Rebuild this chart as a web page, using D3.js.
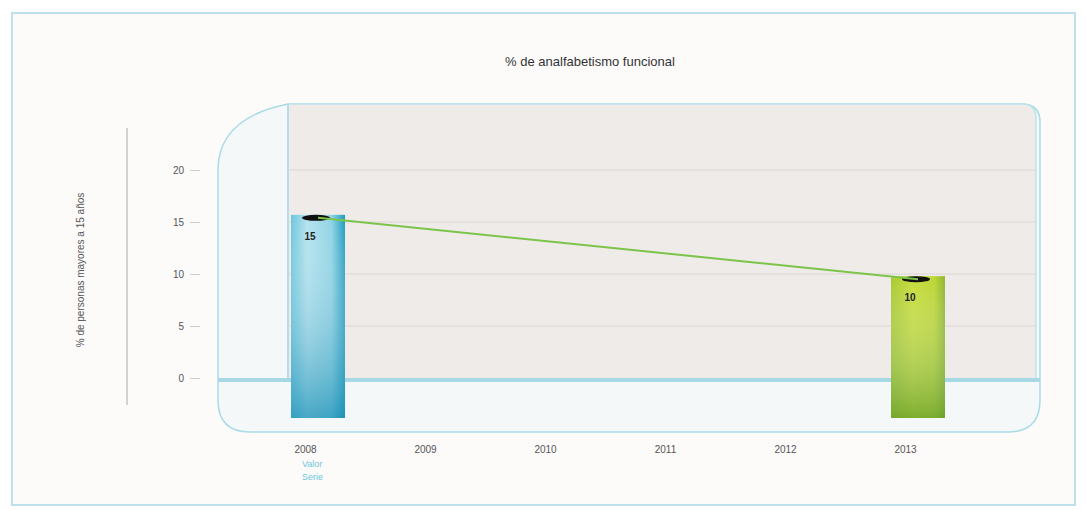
<!DOCTYPE html>
<html><head><meta charset="utf-8">
<script src="https://cdn.jsdelivr.net/npm/d3@7"></script>
<style>body{margin:0;background:#fff}svg{display:block}text{font-family:"Liberation Sans",Arial,sans-serif}</style>
</head><body><svg id="c" width="1086" height="510"></svg>
<script>
const years = [2008, 2009, 2010, 2011, 2012, 2013];
const barYears = [2008, 2013];
const barValues = [15.4, 9.5];
const barLabels = ["15", "10"];
const yTicks = [0, 5, 10, 15, 20];
const title = "% de analfabetismo funcional";
const yTitle = "% de personas mayores a 15 años";
const legendItems = ["Valor", "Serie"];

const svg = d3.select("#c");
const defs = svg.append("defs");
const x = d3.scalePoint().domain(years).range([318, 918]);
const y = d3.scaleLinear().domain([0, 20]).range([378, 170]);

// outer frame
svg.append("rect").attr("x", 12).attr("y", 13).attr("width", 1063).attr("height", 492)
  .attr("fill", "#fcfbfa").attr("stroke", "#bfe0ea").attr("stroke-width", 2);

svg.append("text").attr("x", 590).attr("y", 66).attr("text-anchor", "middle")
  .attr("font-size", 13).attr("fill", "#333").text(title);

// floor/frame shape
svg.append("path")
  .attr("d", "M288,104 L1022,104 Q1040,104 1040,122 L1040,400 Q1040,432 1008,432 L250,432 Q218,432 218,400 L218,170 Q218,118 288,104 Z")
  .attr("fill", "#f4f8f9").attr("stroke", "#a9dbe6").attr("stroke-width", 1.5);
// back wall
svg.append("path")
  .attr("d", "M288,104 L1022,104 Q1036,104 1036,118 L1036,380 L288,380 Z")
  .attr("fill", "#efebe9").attr("stroke", "#bfe3ec").attr("stroke-width", 1.5);
svg.append("line").attr("x1", 288).attr("x2", 288).attr("y1", 104).attr("y2", 380)
  .attr("stroke", "#b5dde8").attr("stroke-width", 2);

// gridlines
svg.append("g").selectAll("line").data(yTicks.filter(d => d > 0)).join("line")
  .attr("x1", 288).attr("x2", 1036).attr("y1", d => y(d)).attr("y2", d => y(d))
  .attr("stroke", "#dcd6d3").attr("stroke-width", 1);
// baseline
svg.append("line").attr("x1", 218).attr("x2", 1040).attr("y1", y(0) + 2).attr("y2", y(0) + 2)
  .attr("stroke", "#a6d8e6").attr("stroke-width", 4);

// y axis
const ya = svg.append("g").attr("transform", "translate(200,0)")
  .call(d3.axisLeft(y).tickValues(yTicks).tickSize(10).tickPadding(6));
ya.select(".domain").remove();
ya.selectAll(".tick line").attr("stroke", "#ccc");
ya.selectAll(".tick text").attr("font-size", 10).attr("fill", "#555");
svg.append("line").attr("x1", 127).attr("x2", 127).attr("y1", 128).attr("y2", 405)
  .attr("stroke", "#aaa").attr("stroke-width", 1);
svg.append("text").attr("transform", "translate(84,270) rotate(-90)").attr("text-anchor", "middle")
  .attr("font-size", 10).attr("fill", "#555").text(yTitle);

// x axis labels
const xa = svg.append("g").attr("transform", "translate(-13,438)")
  .call(d3.axisBottom(x).tickSize(0).tickPadding(8));
xa.select(".domain").remove();
xa.selectAll(".tick text").attr("font-size", 10).attr("fill", "#555");

// gradients
const g1 = defs.append("linearGradient").attr("id", "gb").attr("x1", 0).attr("x2", 1).attr("y1", 0).attr("y2", 0);
g1.append("stop").attr("offset", "0%").attr("stop-color", "#6cc6dc");
g1.append("stop").attr("offset", "30%").attr("stop-color", "#b4e2ee");
g1.append("stop").attr("offset", "75%").attr("stop-color", "#8fd3e4");
g1.append("stop").attr("offset", "100%").attr("stop-color", "#1f9cc0");
const g1v = defs.append("linearGradient").attr("id", "gbv").attr("x1", 0).attr("x2", 0).attr("y1", 0).attr("y2", 1);
g1v.append("stop").attr("offset", "0%").attr("stop-color", "#fff").attr("stop-opacity", 0);
g1v.append("stop").attr("offset", "100%").attr("stop-color", "#1a8fb5").attr("stop-opacity", 0.7);
const g2 = defs.append("linearGradient").attr("id", "gg").attr("x1", 0).attr("x2", 1).attr("y1", 0).attr("y2", 0);
g2.append("stop").attr("offset", "0%").attr("stop-color", "#a7c933");
g2.append("stop").attr("offset", "40%").attr("stop-color", "#c6dc3a");
g2.append("stop").attr("offset", "80%").attr("stop-color", "#bcd636");
g2.append("stop").attr("offset", "100%").attr("stop-color", "#8fb52e");
const g2v = defs.append("linearGradient").attr("id", "ggv").attr("x1", 0).attr("x2", 0).attr("y1", 0).attr("y2", 1);
g2v.append("stop").attr("offset", "0%").attr("stop-color", "#fff").attr("stop-opacity", 0);
g2v.append("stop").attr("offset", "100%").attr("stop-color", "#5f9a2a").attr("stop-opacity", 0.7);
const fills = [["url(#gb)", "url(#gbv)"], ["url(#gg)", "url(#ggv)"]];

const bw = 54, bottom = 418;
const bars = svg.append("g").selectAll("g").data(barYears.map((yr, i) => ({yr, v: barValues[i], l: barLabels[i], i})))
  .join("g");
bars.append("rect").attr("x", d => x(d.yr) - bw / 2).attr("y", d => y(d.v) - 3)
  .attr("width", bw).attr("height", d => bottom - y(d.v) + 3).attr("fill", d => fills[d.i][0]);
bars.append("rect").attr("x", d => x(d.yr) - bw / 2).attr("y", d => y(d.v) - 3)
  .attr("width", bw).attr("height", d => bottom - y(d.v) + 3).attr("fill", d => fills[d.i][1]);

// line
svg.append("path").datum(barYears.map((yr, i) => [yr, barValues[i]]))
  .attr("d", d3.line().x(d => x(d[0])).y(d => y(d[1])))
  .attr("fill", "none").attr("stroke", "#7cc44a").attr("stroke-width", 2);
// markers
bars.append("ellipse").attr("cx", d => x(d.yr) - 2).attr("cy", d => y(d.v))
  .attr("rx", 14).attr("ry", 3).attr("fill", "#111");
bars.append("text").attr("x", d => x(d.yr) - 8).attr("y", d => y(d.v) + 22)
  .attr("font-size", 10).attr("font-weight", "bold").attr("fill", "#222").attr("text-anchor", "middle").text(d => d.l);

// legend
svg.append("g").selectAll("text").data(legendItems).join("text")
  .attr("x", 302).attr("y", (d, i) => 467 + i * 13).attr("font-size", 9).attr("fill", "#6cc6da").text(d => d);
</script></body></html>
